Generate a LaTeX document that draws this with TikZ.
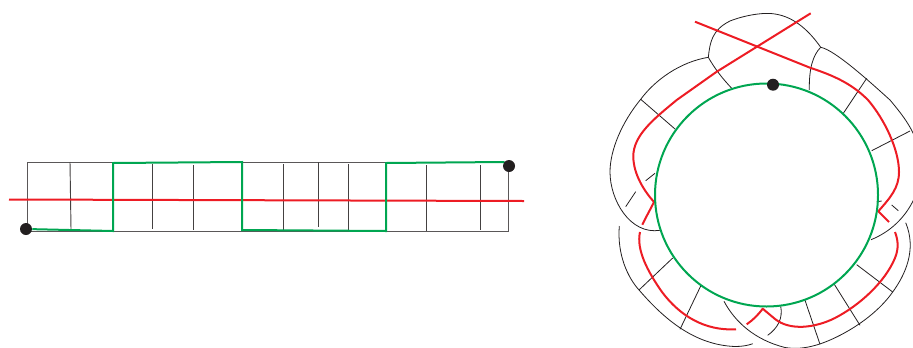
\documentclass[tikz,border=0pt]{standalone}
\definecolor{rd}{HTML}{ED1C24}
\definecolor{gn}{HTML}{00A651}
\definecolor{bk}{HTML}{231F20}
\tikzset{
  redline/.style={draw=rd,line width=1.5pt,line join=round},
  greenline/.style={draw=gn,line width=1.5pt,line join=miter},
  thinline/.style={draw=bk,line width=0.6pt,line join=round},
  gridline/.style={draw=bk!75,line width=0.7pt},
  blackdot/.style={circle,fill=bk,draw=none,inner sep=0pt,minimum size=9pt}
}
\begin{document}
\begin{tikzpicture}[x=0.75pt,y=-0.75pt]
\useasboundingbox (0,0) rectangle (913,347);
\clip (0,0) rectangle (913,347);
% ---------- strip
\draw[gridline] (27,162) rectangle (508,231);
\foreach \a/\b/\c/\d in {70/162/71/229,152/164/152/229,193/165/193/230,283/164/283/230,318/162/318/227,348/164/348/230,426/165/426/231,480/165/480/230}
  \draw[gridline,draw=bk!85] (\a,\b) -- (\c,\d);
\draw[redline] (9,199.5) -- (524,201);
\node[blackdot] (s) at (26,229) {};
\node[blackdot] (e) at (509,166) {};
\draw[greenline] (s) -- (113,231) -- (113,163) -- (242,162) -- (242,230) -- (386,231) -- (386,163) -- (504,162) -- (e);
% ---------- ring: black outline
\coordinate (j1) at (708.3,57.3);
\coordinate (j2) at (820.7,47.3);
\draw[thinline] (j1) .. controls (710,42) and (712,30) .. (730,21) .. controls (745,15) and (765,12) .. (775,14) .. controls (795,17) and (810,32) .. (j2);
\draw[thinline] (j2) .. controls (835,50) and (870,82) .. (890,100) .. controls (900,112) and (908,122) .. (914,135);
\draw[thinline] (j2) .. controls (813,55) and (809,68) .. (809.3,90);
\draw[thinline] (j1) .. controls (680,62) and (655,80) .. (640.7,99.3) .. controls (622,122) and (610,150) .. (610,172) .. controls (610,200) and (630,235) .. (660,230.3);
\draw[thinline] (j1) .. controls (715,69) and (722,78) .. (731.7,88.3);
\draw[thinline] (871,239.7) .. controls (890,232) and (905,218) .. (914,199);
\draw[thinline] (640.7,99.3) -- (675,129);
\draw[thinline] (866.7,78.3) -- (843.3,113.3);
\draw[thinline] (910,131) -- (871.7,150.7);
\draw[thinline] (645.7,180.7) -- (655,173.3);
\draw[thinline] (625.7,206.7) -- (635.7,191.7);
\draw[thinline] (876.7,201.7) -- (881.7,201);
\draw[thinline] (891.7,205) -- (898.3,210.7);
\draw[thinline] (619.3,226) .. controls (617,255) and (628,278) .. (639.3,290.3) .. controls (665,320) and (695,345) .. (735,346.5) .. controls (742,346.5) and (748,345.5) .. (752.7,343.7);
\draw[thinline] (724,301.3) .. controls (735,322) and (755,340) .. (785,347.5) .. controls (805,351) and (825,343) .. (840,335.3) .. controls (860,325) and (880,310) .. (892.7,292) .. controls (905,275) and (917,250) .. (905.7,222.7);
\draw[thinline] (672.7,258) -- (639.3,289.7);
\draw[thinline] (700.7,286) -- (680,329.3);
\draw[thinline] (805,300.3) -- (820,344.3);
\draw[thinline] (834.3,284.3) -- (860,325.3);
\draw[thinline] (856.7,264.7) -- (892.7,292);
\draw[thinline] (780.7,306.3) .. controls (783,318) and (778,328) .. (767.7,335.3);
% ---------- ring: red
\draw[redline] (810.7,13.3) -- (716.7,71.7) -- (676.7,100) .. controls (655,118) and (633,135) .. (633.3,156.7) .. controls (633.5,175) and (645,192) .. (654,202) .. controls (650,210) and (646,217) .. (642.3,224.7);
\draw[redline] (640,232) .. controls (636,250) and (648,272) .. (662,292) .. controls (680,316) and (705,331) .. (736,329.3);
\draw[redline] (746.7,324.3) .. controls (753,320) and (758,315) .. (762.7,308.7) -- (775,319) .. controls (790,331) and (815,328) .. (835,318) .. controls (860,305) and (885,282) .. (895,258) .. controls (899,248) and (898,240) .. (895,232);
\draw[redline] (889,222) -- (878.3,211.3) .. controls (890,198) and (899,188) .. (899,172) .. controls (899,150) and (885,120) .. (868,100) .. controls (852,84) and (835,76) .. (810,67.7) -- (695,21.7);
% ---------- ring: green and dot
\coordinate (c) at (766.5,195);
\draw[greenline] (c) circle[radius=111.5];
\node[blackdot] (t) at (773,84.7) {};
\end{tikzpicture}
\end{document}
